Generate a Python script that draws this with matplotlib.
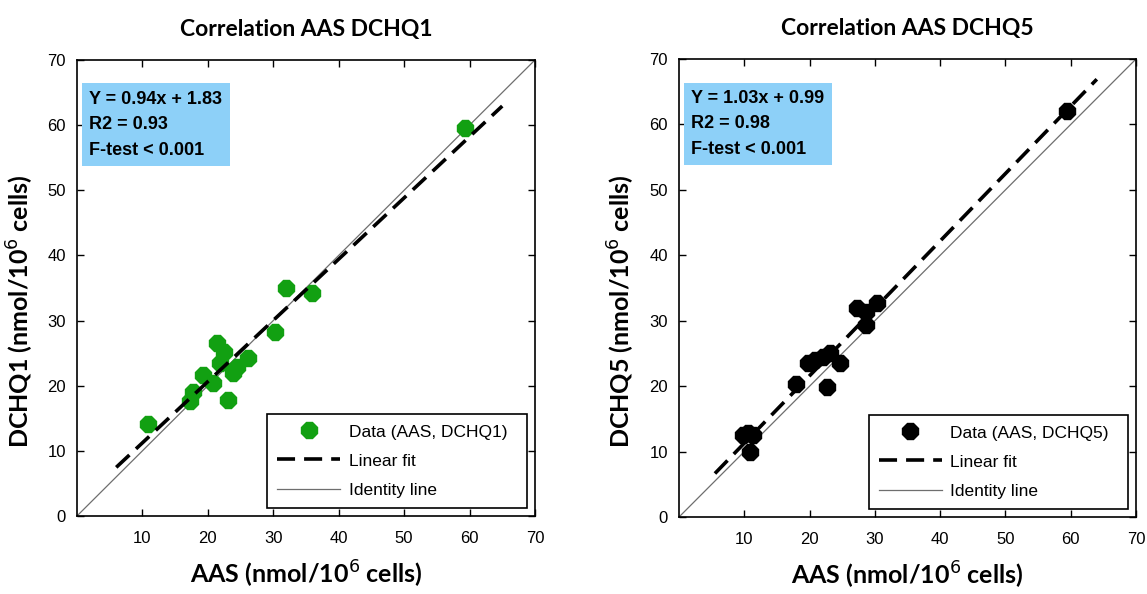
import matplotlib
matplotlib.use("Agg")
import matplotlib.pyplot as plt
from matplotlib.lines import Line2D

# --- data ---
aas_q1 = [10.8, 17.3, 17.8, 19.3, 20.8, 21.4, 22.4, 21.9, 23.1, 23.9, 24.4, 26.2, 30.2, 32.0, 35.9, 59.3]
dchq1 = [14.1, 17.6, 19.1, 21.7, 20.4, 26.5, 25.2, 23.5, 17.8, 21.9, 22.9, 24.2, 28.3, 35.0, 34.2, 59.6]

aas_q5 = [9.8, 10.6, 11.3, 10.9, 17.9, 22.6, 19.8, 20.8, 22.1, 23.1, 24.7, 27.2, 28.7, 28.7, 30.3, 59.4]
dchq5 = [12.5, 12.9, 12.5, 9.9, 20.3, 19.8, 23.5, 24.0, 24.5, 25.0, 23.5, 31.9, 31.4, 29.4, 32.7, 62.0]

fit_q1 = (0.94, 1.83)
fit_q5 = (1.03, 0.99)
fit_range_q1 = (6.0, 65.0)
fit_range_q5 = (5.5, 64.0)

panels = [
    dict(x=aas_q1, y=dchq1, fit=fit_q1, rng=fit_range_q1, color="#12a012",
         title="Correlation AAS DCHQ1", ylabel="DCHQ1 (nmol/10$^{6}$ cells)",
         label="Data (AAS, DCHQ1)", stats="Y = 0.94x + 1.83\nR2 = 0.93\nF-test < 0.001",
         rect=[0.0671, 0.1313, 0.3993, 0.7677], ylab_xy=(-0.09, 0.45)),
    dict(x=aas_q5, y=dchq5, fit=fit_q5, rng=fit_range_q5, color="black",
         title="Correlation AAS DCHQ5", ylabel="DCHQ5 (nmol/10$^{6}$ cells)",
         label="Data (AAS, DCHQ5)", stats="Y = 1.03x + 0.99\nR2 = 0.98\nF-test < 0.001",
         rect=[0.592, 0.1296, 0.3984, 0.771], ylab_xy=(-0.092, 0.45)),
]

fig = plt.figure(figsize=(11.47, 5.94), dpi=100)
tick_font = "Liberation Sans"
head_font = ["Lato", "DejaVu Sans"]

for p in panels:
    ax = fig.add_axes(p["rect"])
    ax.plot([0, 70], [0, 70], color="#6e6e6e", lw=0.9, zorder=1)
    a, b = p["fit"]
    x0, x1 = p["rng"]
    ax.plot([x0, x1], [a * x0 + b, a * x1 + b], color="black", lw=2.6,
            ls=(0, (5, 2.5)), zorder=3)
    ax.plot(p["x"], p["y"], ls="none", marker="8", ms=13, color=p["color"],
            mec=p["color"], zorder=2)

    ax.set_xlim(0, 70)
    ax.set_ylim(0, 70)
    ax.set_xticks(range(10, 71, 10))
    ax.set_yticks(range(0, 71, 10))
    ax.tick_params(direction="in", length=5, width=1, top=True, right=True,
                   labelsize=12)
    ax.tick_params(axis="x", pad=11)
    ax.tick_params(axis="y", pad=8)
    for lab in ax.get_xticklabels() + ax.get_yticklabels():
        lab.set_fontfamily(tick_font)
    for s in ax.spines.values():
        s.set_linewidth(1.2)

    ax.set_title(p["title"], fontsize=16.5, fontweight="bold", family=head_font, pad=17)
    ax.set_xlabel("AAS (nmol/10$^{6}$ cells)", fontsize=18, fontweight="bold",
                  family=head_font, labelpad=9)
    ax.set_ylabel(p["ylabel"], fontsize=18, fontweight="bold", family=head_font)
    ax.yaxis.set_label_coords(*p["ylab_xy"])

    ax.text(1.9, 65.3, p["stats"], ha="left", va="top", fontsize=13,
            fontweight="bold", family=tick_font, linespacing=1.65, zorder=4,
            bbox=dict(boxstyle="square,pad=0.4", facecolor="#8dd0f8", edgecolor="none"))

    handles = [
        Line2D([], [], ls="none", marker="8", ms=13, color=p["color"]),
        Line2D([], [], color="black", lw=2.6, ls=(0, (5, 2.5))),
        Line2D([], [], color="#6e6e6e", lw=0.9),
    ]
    leg = ax.legend(handles, [p["label"], "Linear fit", "Identity line"],
                    loc="lower left", bbox_to_anchor=(0.415, 0.0175, 0.568, 0.22),
                    mode="expand", prop={"family": tick_font, "size": 12.5},
                    handlelength=3.6, labelspacing=0.8, borderpad=0.6,
                    handletextpad=0.5, fancybox=False, framealpha=1,
                    edgecolor="black", borderaxespad=0)
    leg.get_frame().set_linewidth(1.2)

fig.savefig("out.png", dpi=100)
